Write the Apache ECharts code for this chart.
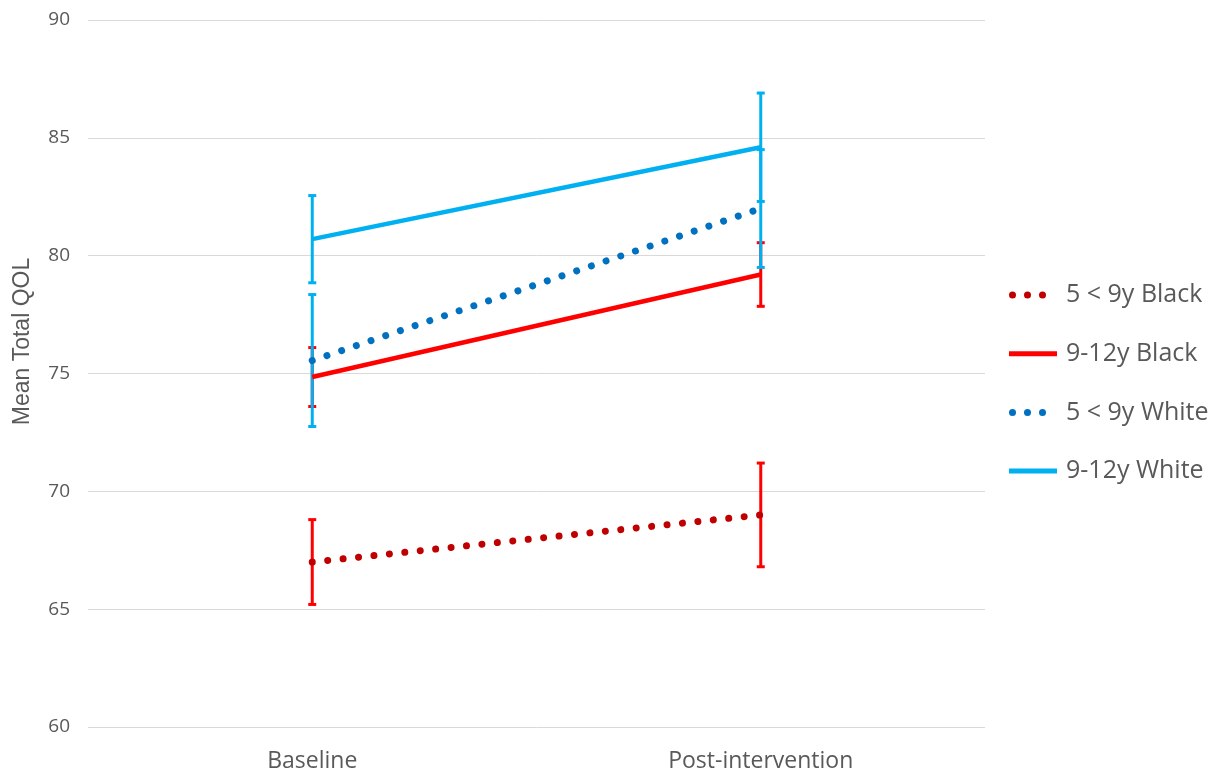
<!DOCTYPE html>
<html>
<head>
<meta charset="utf-8">
<script src="https://cdn.jsdelivr.net/npm/echarts@6/dist/echarts.min.js"></script>
<style>
  html, body { margin: 0; padding: 0; background: #fff; }
  #chart { width: 1211px; height: 774px; }
</style>
</head>
<body>
<div id="chart"></div>
<script>
// Time points
const categories = ['Baseline', 'Post-intervention'];

// Group means and error half-widths (Mean Total QOL)
const black5to9Mean = [67.0, 69.0];
const black5to9Err = [1.8, 2.2];
const black9to12Mean = [74.85, 79.2];
const black9to12Err = [1.25, 1.35];
const white5to9Mean = [75.55, 82.0];
const white5to9Err = [2.8, 2.5];
const white9to12Mean = [80.7, 84.6];
const white9to12Err = [1.85, 2.3];

const yTicks = [60, 65, 70, 75, 80, 85, 90];

const FONT = '"Open Sans", sans-serif';
const TEXT = '#595959';

// Legend icons on a 48x7 frame (corner moves keep the frame size fixed)
const FRAME = 'M0,0L0,0M48,7L48,7';
const DOTS_ICON = 'path://' + FRAME +
  'M0,3.5a3.5,3.5 0 1,0 7,0a3.5,3.5 0 1,0 -7,0z' +
  'M15,3.5a3.5,3.5 0 1,0 7,0a3.5,3.5 0 1,0 -7,0z' +
  'M30,3.5a3.5,3.5 0 1,0 7,0a3.5,3.5 0 1,0 -7,0z';
const BAR_ICON = 'path://' + FRAME + 'M0,1L48,1L48,6L0,6z';

function errData(mean, err) {
  return mean.map((m, i) => [i, m - err[i], m + err[i]]);
}

function errorSeries(mean, err, color, z) {
  return {
    type: 'custom',
    z: z,
    silent: true,
    data: errData(mean, err),
    encode: { x: 0, y: [1, 2] },
    renderItem: function (params, api) {
      const x = api.value(0);
      const lo = api.coord([x, api.value(1)]);
      const hi = api.coord([x, api.value(2)]);
      const cap = 4;
      const style = { stroke: color, lineWidth: 3, fill: null };
      return {
        type: 'group',
        children: [
          { type: 'line', shape: { x1: hi[0], y1: hi[1], x2: lo[0], y2: lo[1] }, style: style },
          { type: 'line', shape: { x1: hi[0] - cap, y1: hi[1], x2: hi[0] + cap, y2: hi[1] }, style: style },
          { type: 'line', shape: { x1: lo[0] - cap, y1: lo[1], x2: lo[0] + cap, y2: lo[1] }, style: style }
        ]
      };
    }
  };
}

function lineSeries(name, data, color, dotted) {
  return {
    name: name,
    type: 'line',
    data: data,
    z: 5,
    showSymbol: false,
    symbol: 'none',
    itemStyle: { color: color },
    lineStyle: dotted
      ? { color: color, width: 7, type: [0.01, 15.5], cap: 'round' }
      : { color: color, width: 4.5 }
  };
}

const chart = echarts.init(document.getElementById('chart'), null, { renderer: 'canvas' });

chart.setOption({
  animation: false,
  backgroundColor: '#ffffff',
  grid: { left: 88, right: 226, top: 20, bottom: 47, containLabel: false },
  legend: {
    orient: 'vertical',
    left: 1004,
    top: 277.5,
    itemWidth: 48,
    itemHeight: 7,
    itemGap: 33.7,
    textStyle: { fontFamily: FONT, fontSize: 25, color: TEXT, padding: [0, 0, 0, 4] },
    data: [
      { name: '5 < 9y Black', icon: DOTS_ICON },
      { name: '9-12y Black', icon: BAR_ICON },
      { name: '5 < 9y White', icon: DOTS_ICON },
      { name: '9-12y White', icon: BAR_ICON }
    ]
  },
  xAxis: {
    type: 'category',
    data: categories,
    boundaryGap: true,
    axisLine: { show: false },
    axisTick: { show: false },
    axisLabel: { fontFamily: FONT, fontSize: 23, color: TEXT, margin: 23 }
  },
  yAxis: {
    type: 'value',
    min: yTicks[0],
    max: yTicks[yTicks.length - 1],
    interval: 5,
    name: 'Mean Total QOL',
    nameLocation: 'middle',
    nameGap: 54,
    nameTextStyle: {
      fontFamily: '"Liberation Sans", Arial, sans-serif',
      fontSize: 23,
      color: TEXT,
      padding: [0, 0, 0, 64]
    },
    axisLine: { show: false },
    axisTick: { show: false },
    axisLabel: { fontFamily: FONT, fontSize: 19, color: TEXT, margin: 18 },
    splitLine: { lineStyle: { color: '#d9d9d9', width: 1 } }
  },
  series: [
    errorSeries(black5to9Mean, black5to9Err, '#ff0000', 2),
    errorSeries(black9to12Mean, black9to12Err, '#ff0000', 2),
    errorSeries(white5to9Mean, white5to9Err, '#00b0f0', 3),
    errorSeries(white9to12Mean, white9to12Err, '#00b0f0', 3),
    lineSeries('5 < 9y Black', black5to9Mean, '#c00000', true),
    lineSeries('9-12y Black', black9to12Mean, '#ff0000', false),
    lineSeries('5 < 9y White', white5to9Mean, '#0070c0', true),
    lineSeries('9-12y White', white9to12Mean, '#00b0f0', false)
  ]
});
</script>
</body>
</html>
